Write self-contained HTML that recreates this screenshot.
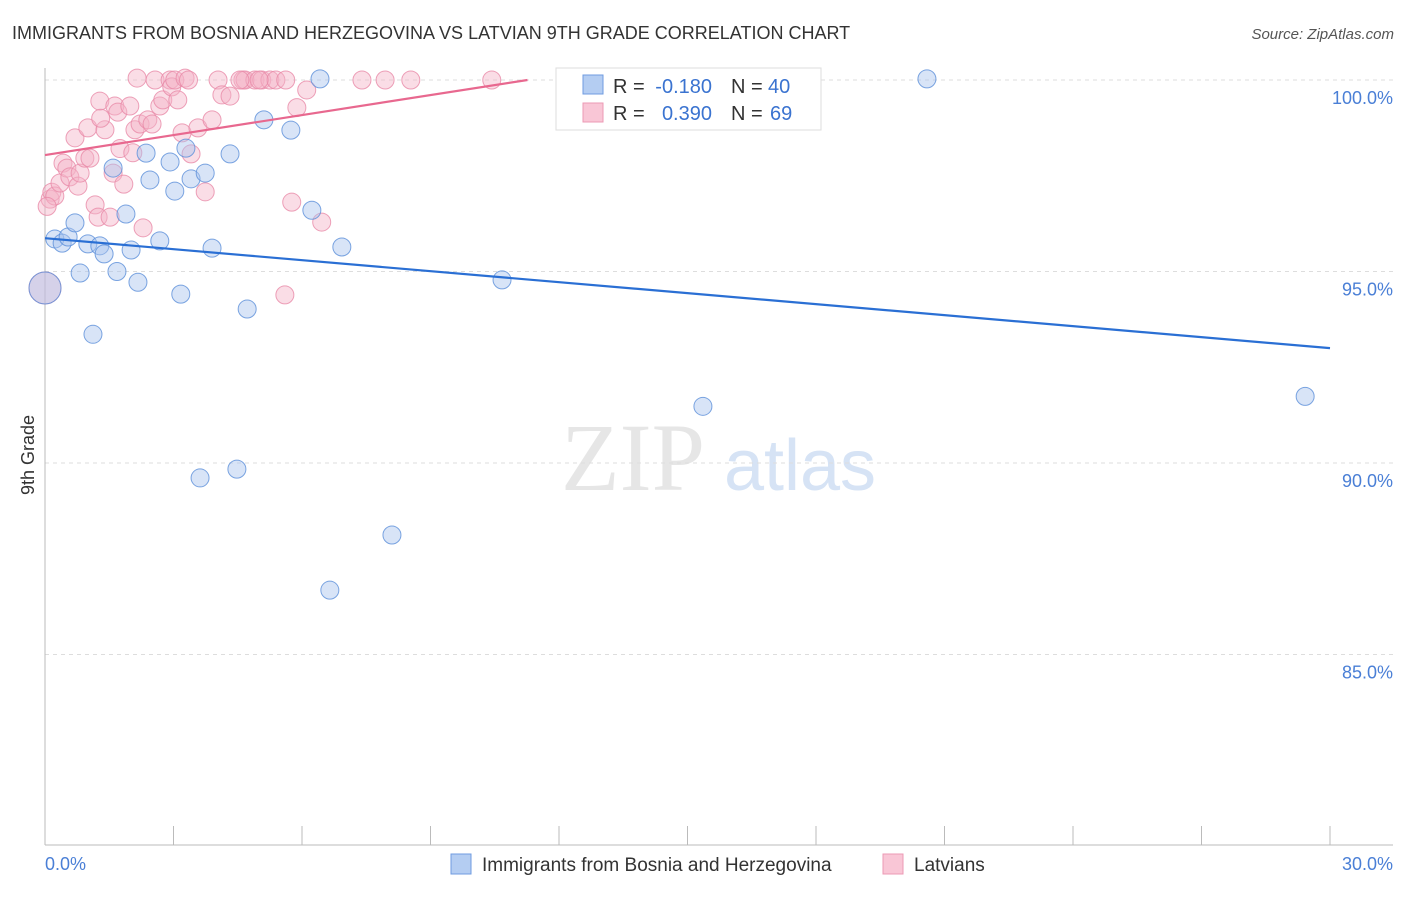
<!DOCTYPE html>
<html><head><meta charset="utf-8">
<style>
body{margin:0;background:#fff;font-family:"Liberation Sans",sans-serif;}
</style></head>
<body>
<svg id="c" width="1406" height="892" xmlns="http://www.w3.org/2000/svg" style="font-family:'Liberation Sans',sans-serif">
<text x="12" y="39" font-size="18" fill="#333">IMMIGRANTS FROM BOSNIA AND HERZEGOVINA VS LATVIAN 9TH GRADE CORRELATION CHART</text>
<text x="1394" y="39" font-size="15" fill="#555" font-style="italic" text-anchor="end">Source: ZipAtlas.com</text>
<g>
<text x="633" y="490" font-size="96" font-family="Liberation Serif,serif" fill="#e6e6e6" text-anchor="middle">ZIP</text>
<text x="800" y="490" font-size="72" fill="#d6e3f5" text-anchor="middle">atlas</text>
</g>
<g id="grid"></g>
<g id="axes"></g>
<g id="pts"></g>
<g id="lines"></g>
<text transform="translate(34,455) rotate(-90)" font-size="18" fill="#333" text-anchor="middle">9th Grade</text>
<g>
<rect x="556" y="68" width="265" height="62" fill="#fff" stroke="#ddd"/>
<rect x="583" y="75" width="20" height="19" fill="#b4cdf2" stroke="#6f9be0"/>
<rect x="583" y="103" width="20" height="19" fill="#f9c6d6" stroke="#ec9ab4"/>
<text x="613" y="93" font-size="20" fill="#333">R =</text>
<text x="712" y="93" font-size="20" fill="#3a73d0" text-anchor="end">-0.180</text>
<text x="731" y="93" font-size="20" fill="#333">N =</text>
<text x="768" y="93" font-size="20" fill="#3a73d0">40</text>
<text x="613" y="120" font-size="20" fill="#333">R =</text>
<text x="712" y="120" font-size="20" fill="#3a73d0" text-anchor="end">0.390</text>
<text x="731" y="120" font-size="20" fill="#333">N =</text>
<text x="770" y="120" font-size="20" fill="#3a73d0">69</text>
</g>
<g>
<rect x="451" y="854" width="20" height="20" fill="#b4cdf2" stroke="#6f9be0"/>
<text x="482" y="871" font-size="19" fill="#333">Immigrants from Bosnia and Herzegovina</text>
<rect x="883" y="854" width="20" height="20" fill="#f9c6d6" stroke="#ec9ab4"/>
<text x="914" y="871" font-size="19" fill="#333">Latvians</text>
</g>
</svg>
<script>
const yTicks=[100,95,90,85];
const yTickLabels=["100.0%","95.0%","90.0%","85.0%"];
const xTicks=[0,3,6,9,12,15,18,21,24,27,30];
const xEndLabels=["0.0%","30.0%"];
const blueX=[0.23,0.4,0.54,0.7,0.82,1.0,1.12,1.28,1.38,1.59,1.68,1.89,2.01,2.17,2.36,2.45,2.68,2.92,3.03,3.17,3.29,3.41,3.62,3.74,3.9,4.32,4.48,4.72,5.11,5.74,6.23,6.42,6.93,8.1,6.65,10.67,15.36,20.59,29.42,0.0];
const blueY=[95.85,95.74,95.9,96.27,94.96,95.72,93.36,95.67,95.46,97.7,95.0,96.5,95.56,94.72,98.09,97.39,95.8,97.86,97.1,94.41,98.22,97.42,89.61,97.57,95.61,98.07,89.84,94.02,98.96,98.69,96.6,100.03,95.64,88.12,86.68,94.78,91.48,100.03,91.74,94.57];
const pinkX=[0.0,0.12,0.16,0.23,0.35,0.42,0.51,0.58,0.7,0.77,0.82,0.93,1.0,1.05,1.17,1.24,1.28,1.4,1.52,1.59,1.63,1.7,1.75,1.84,1.98,2.1,2.15,2.22,2.29,2.4,2.5,2.57,2.68,2.75,2.92,2.96,3.03,3.1,3.2,3.27,3.41,3.57,3.74,3.9,4.04,4.13,4.32,4.62,4.67,4.9,5.06,5.25,5.39,5.6,5.76,5.62,5.88,6.11,6.46,7.4,7.94,8.54,10.43,0.05,4.55,5.0,3.35,2.05,1.3];
const pinkY=[94.57,96.89,97.07,96.97,97.31,97.83,97.7,97.47,98.49,97.23,97.57,97.96,98.75,97.96,96.74,96.42,99.45,98.7,96.42,97.57,99.32,99.16,98.21,97.28,99.32,98.7,100.05,98.85,96.14,98.96,98.85,100.0,99.32,99.48,100.0,99.82,100.0,99.48,98.62,100.05,98.07,98.75,97.08,98.96,100.0,99.61,99.58,100.0,100.0,100.0,100.0,100.0,100.0,94.39,96.81,100.0,99.28,99.74,96.29,100.0,100.0,100.0,100.0,96.7,100.0,100.0,100.0,98.1,99.0];
const blueBig=[39];const pinkBig=[0];
const trendBlue=[95.87,-0.0957];
const trendPink=[98.04,0.174];

const X0=45,X1=1330,Y100=80,PXPER=38.3;
const sx=v=>X0+(v-0)/30*(X1-X0);
const sy=v=>Y100+(100-v)*PXPER;
const NS="http://www.w3.org/2000/svg";
function mk(t,a,p){const e=document.createElementNS(NS,t);for(const k in a)e.setAttribute(k,a[k]);p.appendChild(e);return e;}
const grid=document.getElementById('grid'),axes=document.getElementById('axes'),pts=document.getElementById('pts'),lines=document.getElementById('lines');
yTicks.forEach((v,i)=>{
 const l=mk('line',{x1:X0,x2:1393,y1:sy(v),y2:sy(v),stroke:'#ddd','stroke-dasharray':'4,4'},grid);
 
 
 const t=mk('text',{x:1393,y:sy(v)+24,'font-size':18,fill:'#4a7fd6','text-anchor':'end'},axes);
 t.textContent=yTickLabels[i];
 
 
});
const ax=mk('line',{x1:X0,x2:X0,y1:68,y2:845,stroke:'#bbb'},axes);


const bx=mk('line',{x1:X0,x2:1393,y1:845,y2:845,stroke:'#bbb'},axes);


xTicks.forEach(v=>{
 const t=mk('line',{x1:sx(v),x2:sx(v),y1:826,y2:845,stroke:'#bbb'},axes);
 
 
});
[[0,'start',45],[30,'end',1393]].forEach((d,i)=>{
 const t=mk('text',{x:d[2],y:870,'font-size':18,fill:'#4a7fd6','text-anchor':d[1]},axes);
 t.textContent=xEndLabels[i];
 
 
});
function drawSeries(xs,ys,big,fill,stroke,name){
 xs.forEach((x,i)=>{
  const c=mk('circle',{cx:sx(x),cy:sy(ys[i]),r:big.includes(i)?16:9,fill:fill,'fill-opacity':0.45,stroke:stroke,'stroke-opacity':0.8,'stroke-width':1},pts);
  
  
 });
}
drawSeries(pinkX,pinkY,pinkBig,'#f5b3c8','#e88aa8','point-latvians');
drawSeries(blueX,blueY,blueBig,'#a9c4ee','#5b8fd9','point-bosnia');
function trend(tr,color,name){
 let xe=30;const ye=tr[0]+tr[1]*30;
 if(ye>100)xe=(100-tr[0])/tr[1];
 const l=mk('line',{x1:sx(0),y1:sy(tr[0]),x2:sx(xe),y2:sy(tr[0]+tr[1]*xe),stroke:color,'stroke-width':2.2},lines);
 
 
}
trend(trendBlue,'#2a6fd4','trendline-bosnia');
trend(trendPink,'#e8688f','trendline-latvians');
</script>
</body></html>
